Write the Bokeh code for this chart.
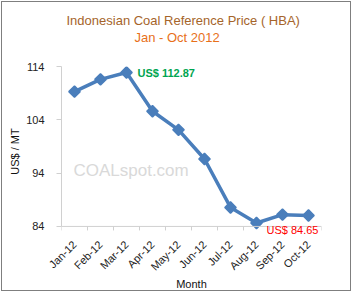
from math import pi
from bokeh.plotting import figure
from bokeh.models import FixedTicker, Range1d, Label, Title, Span
from bokeh.embed import file_html
from bokeh.resources import INLINE

months = ["Jan-12", "Feb-12", "Mar-12", "Apr-12", "May-12", "Jun-12",
          "Jul-12", "Aug-12", "Sep-12", "Oct-12"]
prices = [109.29, 111.58, 112.87, 105.61, 102.12, 96.65, 87.56, 84.65, 86.21, 86.04]
y_ticks = [84, 94, 104, 114]

FONT = "Liberation Sans"
AXIS_COLOR = "#d0d0d0"
n = len(months)
x = [i + 0.5 for i in range(n)]
ymin, ymax = min(y_ticks), max(y_ticks)
pad = 1.89  # room below the axis for the minimum label

p = figure(width=350, height=290, output_backend="svg", toolbar_location=None,
           x_range=Range1d(0, n), y_range=Range1d(ymin - pad, ymax),
           min_border_left=59, min_border_right=31, min_border_top=64, min_border_bottom=40)
p.styles = {"border": "1px solid #7f7f7f", "margin": "1px"}
p.outline_line_color = None
p.xgrid.grid_line_color = None
p.ygrid.grid_line_color = None
p.background_fill_color = "white"
p.border_fill_color = "white"

# x axis: labels at category centres; line and boundary ticks drawn at y = ymin
p.xaxis.ticker = FixedTicker(ticks=x, minor_ticks=[])
p.xaxis.major_label_overrides = {xi: m for xi, m in zip(x, months)}
p.xaxis.major_label_orientation = pi / 4
p.xaxis.major_tick_out = 0
p.xaxis.major_tick_in = 0
p.xaxis.minor_tick_out = 0
p.xaxis.minor_tick_in = 0
p.xaxis.axis_line_color = None
p.xaxis.major_label_standoff = 6

p.add_layout(Span(location=ymin, dimension="width", line_color=AXIS_COLOR, line_width=1))
bounds = list(range(n + 1))
p.segment(x0=bounds, x1=bounds, y0=[ymin] * len(bounds), y1=[ymin - 0.75] * len(bounds),
          line_color=AXIS_COLOR, line_width=1)

p.yaxis.ticker = FixedTicker(ticks=y_ticks, minor_ticks=[])
p.yaxis.bounds = (ymin, ymax)
p.yaxis.major_tick_out = 5
p.yaxis.major_tick_in = 0
p.yaxis.minor_tick_out = 0
p.yaxis.major_label_standoff = 12
p.yaxis.axis_line_color = AXIS_COLOR
p.yaxis.major_tick_line_color = AXIS_COLOR

for ax in (p.xaxis, p.yaxis):
    ax.major_label_text_font = FONT
    ax.major_label_text_font_size = "11px"
    ax.major_label_text_color = "#222222"
    ax.axis_label_text_font = FONT
    ax.axis_label_text_font_size = "11px"
    ax.axis_label_text_font_style = "normal"
    ax.axis_label_text_color = "#111111"

p.xaxis.axis_label = "Month"
p.yaxis.axis_label = "US$ / MT"
p.xaxis.axis_label_standoff = -2
p.yaxis.axis_label_standoff = 2

# titles (later additions are stacked farther from the plot)
spacer = Title(text=" ", text_font_size="2px", standoff=18, text_color="white")
sub = Title(text="Jan - Oct 2012", align="left", offset=73, standoff=0,
            text_font=FONT, text_font_size="13px", text_font_style="normal",
            text_color="#E8701A")
main = Title(text="Indonesian Coal Reference Price ( HBA)", align="left", offset=5,
             standoff=0, text_font=FONT, text_font_size="13px", text_font_style="normal",
             text_color="#A5642A")
p.add_layout(spacer, "above")
p.add_layout(sub, "above")
p.add_layout(main, "above")

# watermark
p.add_layout(Label(x=0.46, y=94.4, text="COALspot.com", text_baseline="middle",
                   text_font=FONT, text_font_size="17px", text_color="#d9d9d9",
                   level="underlay"))

line_color = "#4A7EBB"
p.line(x, prices, line_color=line_color, line_width=3.5)
p.scatter(x, prices, marker="square", angle=pi / 4, size=8,
          fill_color=line_color, line_color=line_color, line_width=1.5)

imax = prices.index(max(prices))
imin = prices.index(min(prices))
p.add_layout(Label(x=x[imax], y=prices[imax], x_offset=11, text=f"US$ {prices[imax]:.2f}",
                   text_baseline="middle", text_font=FONT, text_font_size="11px",
                   text_font_style="bold", text_color="#00A550"))
p.add_layout(Label(x=x[imin], y=prices[imin], x_offset=10, y_offset=-7,
                   text=f"US$ {prices[imin]:.2f}",
                   text_baseline="middle", text_font=FONT, text_font_size="11px",
                   text_font_style="normal", text_color="#FF0000"))

open("out.html", "w").write(file_html(p, INLINE))
